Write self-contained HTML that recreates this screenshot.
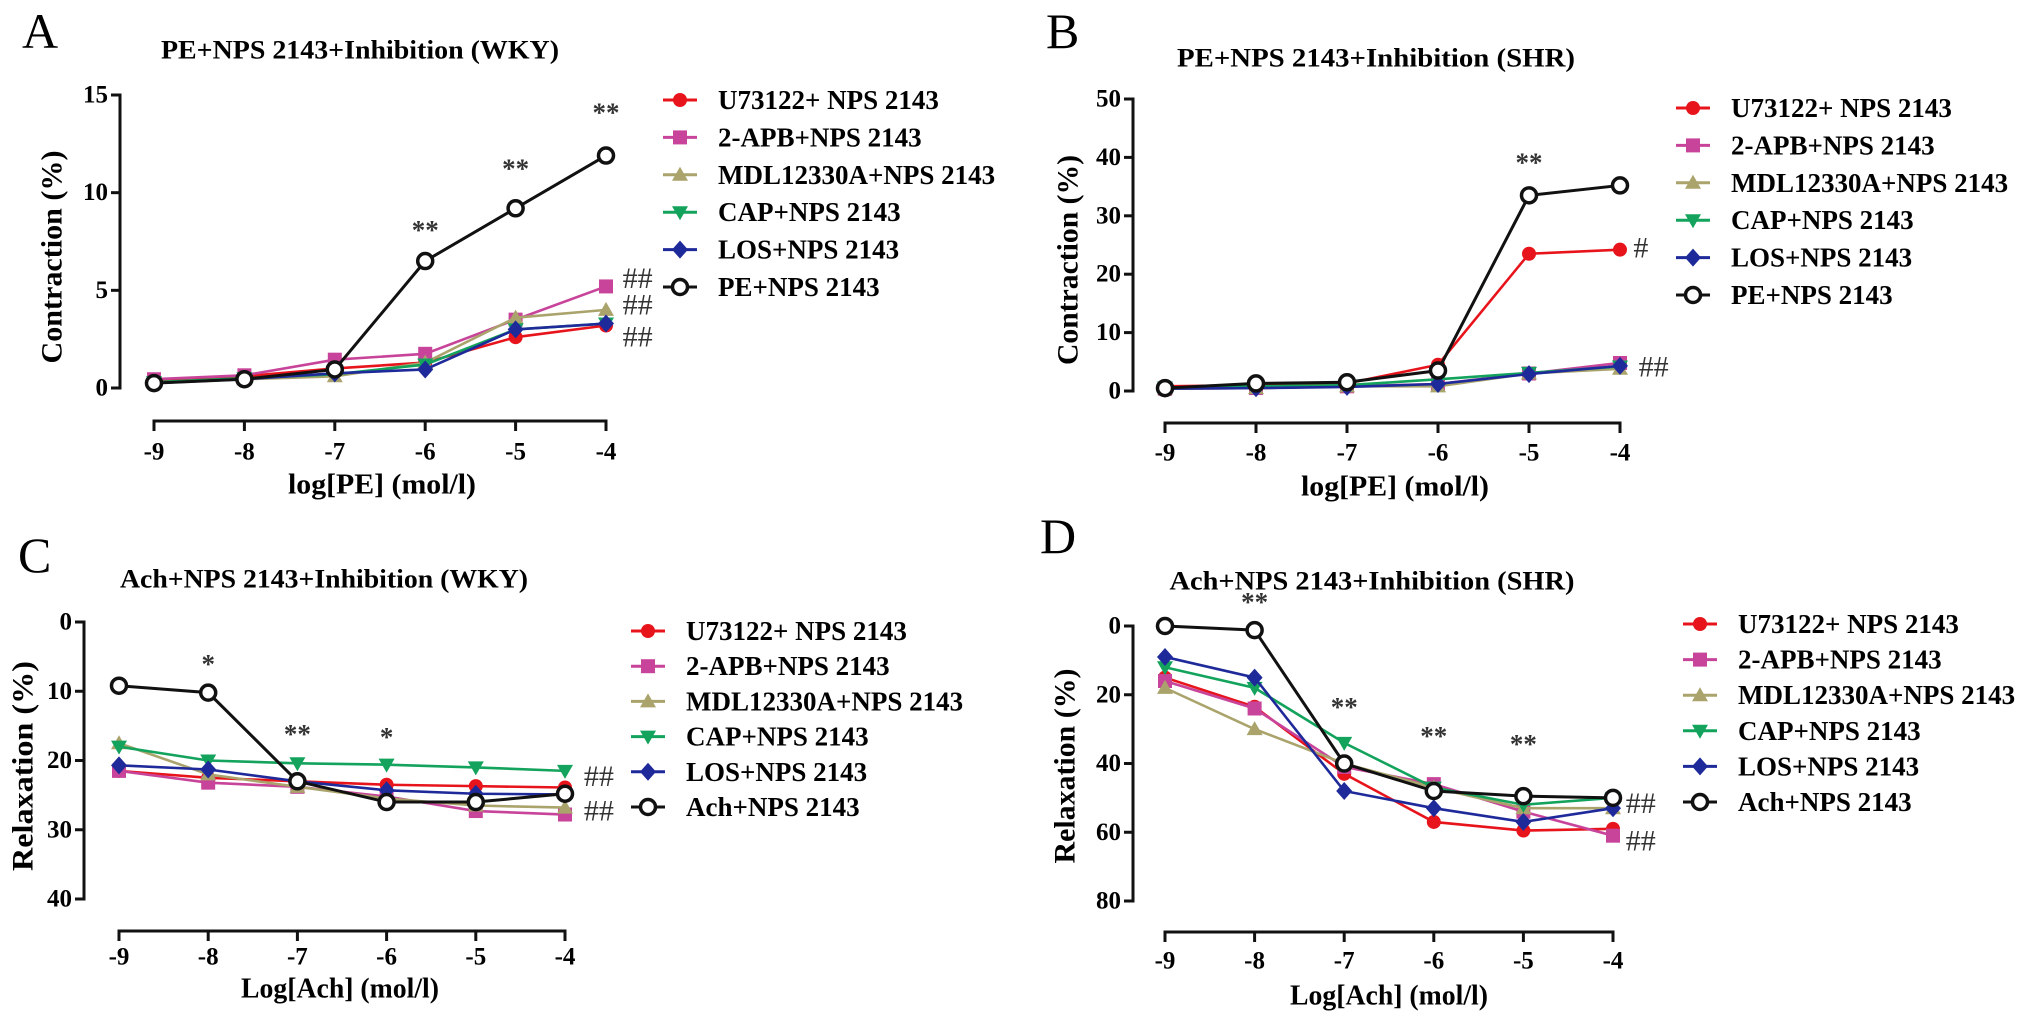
<!DOCTYPE html>
<html><head><meta charset="utf-8"><style>
html,body{margin:0;padding:0;background:#fff;}
svg{display:block;font-family:"Liberation Serif",serif;font-weight:bold;}
</style></head><body>
<svg id="fig" width="2031" height="1018" viewBox="0 0 2031 1018" xmlns="http://www.w3.org/2000/svg"></svg>
<script>
// shared x categories (log concentration)
const xVals = [-9, -8, -7, -6, -5, -4];
const xTickLabels = ["-9", "-8", "-7", "-6", "-5", "-4"];
const seriesNames = ["U73122+ NPS 2143", "2-APB+NPS 2143", "MDL12330A+NPS 2143", "CAP+NPS 2143", "LOS+NPS 2143"];

// Panel A (contraction %, WKY)
const aU73122 = [0.4, 0.6, 1.0, 1.3, 2.6, 3.2];
const a2APB = [0.45, 0.65, 1.45, 1.75, 3.5, 5.2];
const aMDL = [0.3, 0.45, 0.6, 1.3, 3.6, 4.0];
const aCAP = [0.3, 0.5, 0.7, 1.2, 3.0, 3.3];
const aLOS = [0.25, 0.45, 0.75, 0.95, 3.0, 3.3];
const aPE = [0.25, 0.45, 0.95, 6.5, 9.2, 11.9];
const aYTicks = [0, 5, 10, 15];

// Panel B (contraction %, SHR)
const bU73122 = [0.8, 1.0, 1.3, 4.5, 23.5, 24.2];
const b2APB = [0.4, 0.5, 0.8, 1.2, 3.0, 4.8];
const bMDL = [0.4, 0.5, 0.8, 0.8, 3.0, 3.8];
const bCAP = [0.6, 0.8, 1.0, 2.0, 3.1, 4.2];
const bLOS = [0.4, 0.5, 0.7, 1.2, 2.9, 4.3];
const bPE = [0.5, 1.3, 1.5, 3.5, 33.5, 35.2];
const bYTicks = [0, 10, 20, 30, 40, 50];

// Panel C (relaxation %, WKY)
const cU73122 = [21.5, 22.5, 23.0, 23.5, 23.7, 23.9];
const c2APB = [21.5, 23.2, 23.8, 25.2, 27.3, 27.8];
const cMDL = [17.5, 22.0, 23.8, 25.5, 26.5, 26.8];
const cCAP = [18.0, 20.0, 20.4, 20.6, 21.0, 21.5];
const cLOS = [20.7, 21.3, 23.0, 24.3, 24.8, 24.9];
const cAch = [9.2, 10.2, 23.0, 26.0, 26.0, 24.8];
const cYTicks = [0, 10, 20, 30, 40];

// Panel D (relaxation %, SHR)
const dU73122 = [15, 23.5, 43, 57, 59.5, 59];
const d2APB = [16, 24, 41, 46, 54, 61];
const dMDL = [18, 30, 40, 47, 53, 53];
const dCAP = [12, 18, 34, 47, 52, 50];
const dLOS = [9, 15, 48, 53, 57, 53];
const dAch = [0, 1.2, 40, 48, 49.5, 50];
const dYTicks = [0, 20, 40, 60, 80];

// annotations (x in log units, y in data units)
const aStarX = [-6, -5, -4], aStarY = [8.1, 11.25, 14.1], aStarT = ["**", "**", "**"];
const aHashX = [-3.65, -3.65, -3.65], aHashY = [5.6, 4.25, 2.6], aHashT = ["##", "##", "##"];
const bStarX = [-5], bStarY = [39.1], bStarT = ["**"];
const bHashX = [-3.77, -3.63], bHashY = [24.5, 4.1], bHashT = ["#", "##"];
const cStarX = [-8, -7, -6], cStarY = [6.1, 16.2, 16.6], cStarT = ["*", "**", "*"];
const cHashX = [-3.62, -3.62], cHashY = [22.3, 27.3], cHashT = ["##", "##"];
const dStarX = [-8, -7, -6, -5], dStarY = [-7, 23.5, 32, 34.3], dStarT = ["**", "**", "**", "**"];
const dHashX = [-3.69, -3.69], dHashY = [51.7, 62.5], dHashT = ["##", "##"];

const COLORS = ["#e8141c", "#c8449a", "#aaa46c", "#13a35c", "#1f2a9a", "#111111"];
const SHAPES = ["circle", "square", "tri", "tridown", "diamond", "open"];
const NS = "http://www.w3.org/2000/svg";
const svg = document.getElementById("fig");

function mk(tag, attrs, parent) {
  const e = document.createElementNS(NS, tag);
  for (const k in attrs) e.setAttribute(k, attrs[k]);
  (parent || svg).appendChild(e);
  return e;
}
function txt(parent, s, attrs) {
  const t = mk("text", attrs, parent);
  t.textContent = s;
  return t;
}
function marker(g, shape, color, x, y) {
  let m;
  const r = 7;
  if (shape === "circle") m = mk("circle", {cx: x, cy: y, r: r, fill: color}, g);
  else if (shape === "square") m = mk("rect", {x: x - r, y: y - r, width: 2 * r, height: 2 * r, fill: color}, g);
  else if (shape === "tri") m = mk("polygon", {points: `${x},${y - r - 1} ${x - r - 1},${y + r - 1} ${x + r + 1},${y + r - 1}`, fill: color}, g);
  else if (shape === "tridown") m = mk("polygon", {points: `${x},${y + r + 1} ${x - r - 1},${y - r + 1} ${x + r + 1},${y - r + 1}`, fill: color}, g);
  else if (shape === "diamond") m = mk("polygon", {points: `${x},${y - r - 2} ${x + r + 1},${y} ${x},${y + r + 2} ${x - r - 1},${y}`, fill: color}, g);
  else m = mk("circle", {cx: x, cy: y, r: 7.5, fill: "#fff", stroke: color, "stroke-width": 3.5}, g);
  
  
  return m;
}

function panel(L, series, lastName, yTicks, vTop, vBot, annos) {
  const g = mk("g", {});
  
  
  const sx = v => L.x0 + (v - xVals[0]) / (xVals[xVals.length - 1] - xVals[0]) * (L.x1 - L.x0);
  const sy = v => L.yTop + (v - vTop) / (vBot - vTop) * (L.yBot - L.yTop);

  const letter = txt(g, L.letter, {x: L.lx, y: L.ly, "font-size": 50, "font-weight": "normal"});
  
  
  const title = txt(g, L.title, {x: L.tx, y: L.ty, "font-size": 26, "text-anchor": "middle", "dominant-baseline": "central", textLength: L.tw, lengthAdjust: "spacingAndGlyphs"});
  
  

  // y axis
  const ya = mk("g", {}, g);
  
  
  mk("line", {x1: L.yAxisX, x2: L.yAxisX, y1: Math.min(L.yTop, L.yBot) - 1.5, y2: Math.max(L.yTop, L.yBot) + 1.5, stroke: "#111", "stroke-width": 3}, ya);
  yTicks.forEach(t => {
    const y = sy(t);
    mk("line", {x1: L.yAxisX - 9, x2: L.yAxisX, y1: y, y2: y, stroke: "#111", "stroke-width": 3}, ya);
    const tl = txt(ya, String(t), {x: L.yAxisX - 12, y: y, "font-size": 25, "text-anchor": "end", "dominant-baseline": "central"});
    
    
  });
  const yt = txt(g, L.ytitle, {x: 0, y: 0, "font-size": 30, "text-anchor": "middle", "dominant-baseline": "central", transform: `translate(${L.ytx},${L.yty}) rotate(-90)`, textLength: L.ytw, lengthAdjust: "spacingAndGlyphs"});
  
  

  // x axis
  const xa = mk("g", {}, g);
  
  
  mk("line", {x1: sx(xVals[0]) - 1.5, x2: sx(xVals[xVals.length - 1]) + 1.5, y1: L.xAxisY, y2: L.xAxisY, stroke: "#111", "stroke-width": 3}, xa);
  xVals.forEach((v, i) => {
    const x = sx(v);
    mk("line", {x1: x, x2: x, y1: L.xAxisY, y2: L.xAxisY + 10, stroke: "#111", "stroke-width": 3}, xa);
    const tl = txt(xa, xTickLabels[i], {x: x, y: L.xLabY, "font-size": 25, "text-anchor": "middle", "dominant-baseline": "central"});
    
    
  });
  const xt = txt(g, L.xtitle, {x: L.xtx, y: L.xty, "font-size": 28, "text-anchor": "middle", "dominant-baseline": "central", textLength: L.xtw, lengthAdjust: "spacingAndGlyphs"});
  
  

  // series
  series.forEach((vals, si) => {
    const sg = mk("g", {}, g);
    
    
    const pts = vals.map((v, i) => sx(xVals[i]) + "," + sy(v)).join(" ");
    mk("polyline", {points: pts, fill: "none", stroke: COLORS[si], "stroke-width": si === 5 ? 3 : 2.6}, sg);
    vals.forEach((v, i) => marker(sg, SHAPES[si], COLORS[si], sx(xVals[i]), sy(v)));
  });

  // annotations
  annos.forEach(a => {
    a.x.forEach((xv, i) => {
      const t = txt(g, a.t[i], {x: sx(xv), y: sy(a.y[i]), "font-size": a.hash ? 30 : 27, "font-weight": a.hash ? "normal" : "bold", fill: "#333", "text-anchor": "middle", "dominant-baseline": "central"});
      
      
    });
  });

  // legend
  const lg = mk("g", {}, g);
  
  
  const names = seriesNames.concat([lastName]);
  names.forEach((n, i) => {
    const y = L.legY + i * L.legStep;
    const e = mk("g", {}, lg);
    
    
    mk("line", {x1: L.legX - 17, x2: L.legX + 17, y1: y, y2: y, stroke: COLORS[i], "stroke-width": 3}, e);
    marker(e, SHAPES[i], COLORS[i], L.legX, y);
    txt(e, n, {x: L.legX + 38, y: y, "font-size": 27, "dominant-baseline": "central"});
  });
}

panel({letter: "A", lx: 22, ly: 48, title: "PE+NPS 2143+Inhibition (WKY)", tx: 360, ty: 50, tw: 398,
  yAxisX: 120, yTop: 95, yBot: 388, x0: 154, x1: 606, xAxisY: 421, xLabY: 452,
  xtitle: "log[PE] (mol/l)", xtx: 382, xty: 485, xtw: 188, ytitle: "Contraction (%)", ytx: 52, yty: 257, ytw: 213,
  legX: 680, legY: 100, legStep: 37.4},
  [aU73122, a2APB, aMDL, aCAP, aLOS, aPE], "PE+NPS 2143", aYTicks, 15, 0,
  [{x: aStarX, y: aStarY, t: aStarT}, {x: aHashX, y: aHashY, t: aHashT, hash: true}]);

panel({letter: "B", lx: 1046, ly: 48, title: "PE+NPS 2143+Inhibition (SHR)", tx: 1376, ty: 58, tw: 398,
  yAxisX: 1133, yTop: 99, yBot: 391, x0: 1165, x1: 1620, xAxisY: 423, xLabY: 453,
  xtitle: "log[PE] (mol/l)", xtx: 1395, xty: 487, xtw: 188, ytitle: "Contraction (%)", ytx: 1068, yty: 260, ytw: 210,
  legX: 1693, legY: 108, legStep: 37.4},
  [bU73122, b2APB, bMDL, bCAP, bLOS, bPE], "PE+NPS 2143", bYTicks, 50, 0,
  [{x: bStarX, y: bStarY, t: bStarT}, {x: bHashX, y: bHashY, t: bHashT, hash: true}]);

panel({letter: "C", lx: 18, ly: 572, title: "Ach+NPS 2143+Inhibition (WKY)", tx: 324, ty: 579, tw: 408,
  yAxisX: 84, yTop: 622, yBot: 899, x0: 119, x1: 565, xAxisY: 931, xLabY: 957,
  xtitle: "Log[Ach] (mol/l)", xtx: 340, xty: 989, xtw: 198, ytitle: "Relaxation (%)", ytx: 23, yty: 766, ytw: 210,
  legX: 648, legY: 631, legStep: 35.2},
  [cU73122, c2APB, cMDL, cCAP, cLOS, cAch], "Ach+NPS 2143", cYTicks, 0, 40,
  [{x: cStarX, y: cStarY, t: cStarT}, {x: cHashX, y: cHashY, t: cHashT, hash: true}]);

panel({letter: "D", lx: 1040, ly: 553, title: "Ach+NPS 2143+Inhibition (SHR)", tx: 1372, ty: 581, tw: 405,
  yAxisX: 1133, yTop: 626, yBot: 901, x0: 1165, x1: 1613, xAxisY: 932, xLabY: 961,
  xtitle: "Log[Ach] (mol/l)", xtx: 1389, xty: 996, xtw: 198, ytitle: "Relaxation (%)", ytx: 1065, yty: 766, ytw: 195,
  legX: 1700, legY: 624, legStep: 35.6},
  [dU73122, d2APB, dMDL, dCAP, dLOS, dAch], "Ach+NPS 2143", dYTicks, 0, 80,
  [{x: dStarX, y: dStarY, t: dStarT}, {x: dHashX, y: dHashY, t: dHashT, hash: true}]);
</script>
</body></html>
